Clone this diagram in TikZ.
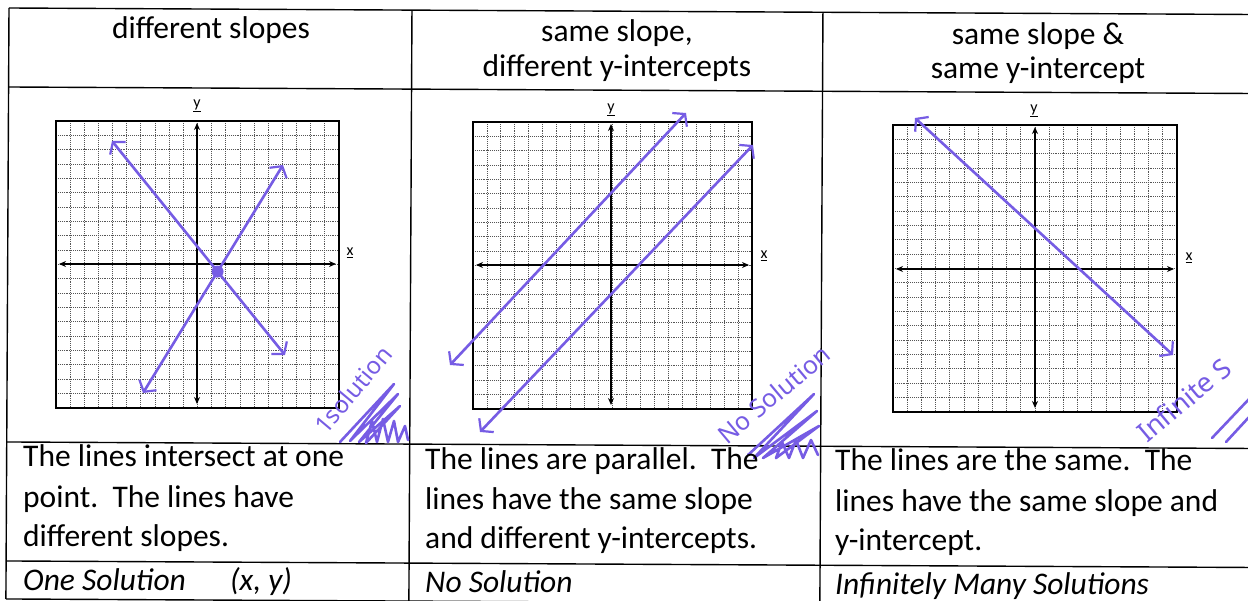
\documentclass[tikz,border=0pt]{standalone}
\usepackage{fontspec}
\setmainfont{Carlito}
\newfontfamily\handfont{Noto Sans}
\usetikzlibrary{arrows.meta}
\definecolor{pen}{RGB}{118,92,228}
\definecolor{gridc}{RGB}{85,85,85}
\tikzset{
  frame/.style={line width=1.4pt, black},
  headtxt/.style={font=\fontsize{31.5}{34}\selectfont, anchor=base, inner sep=0pt},
  bodytxt/.style={font=\fontsize{31.5}{39}\selectfont, anchor=base west, inner sep=0pt},
  italtxt/.style={font=\fontsize{31.5}{39}\selectfont\itshape, anchor=base west, inner sep=0pt},
  gbox/.style={line width=1.5pt, black},
  gridl/.style={gridc, densely dotted, line width=0.9pt},
  axisline/.style={line width=1.7pt, black, {Stealth[length=7pt,width=6pt]}-{Stealth[length=7pt,width=6pt]}},
  axlab/.style={font=\fontsize{16}{16}\selectfont, inner sep=0pt},
  penline/.style={pen, line width=2.6pt, line cap=round,
    {Straight Barb[length=8pt,width=20pt,line width=2.2pt]}-{Straight Barb[length=8pt,width=20pt,line width=2.2pt]}},
  hatch/.style={pen, line width=2.6pt, line cap=round, line join=round},
  handtxt/.style={pen, inner sep=0pt, anchor=base west},
}
% graph paper: #1 x0, #2 y0, #3 x1, #4 y1
\newcommand\gpaper[4]{%
  \foreach \i in {1,...,19} {
    \draw[gridl] ({#1+\i*(#3-#1)/20},#2) -- ({#1+\i*(#3-#1)/20},#4);
    \draw[gridl] (#1,{#2+\i*(#4-#2)/20}) -- (#3,{#2+\i*(#4-#2)/20});
  }
  \draw[gbox] (#1,#2) rectangle (#3,#4);
}
\begin{document}
\begin{tikzpicture}[x=1pt,y=-1pt]
\useasboundingbox (0,0) rectangle (1248,601);
\clip (0,0) rectangle (1248,601);
\fill[white] (0,0) rectangle (1248,601);

% ---------- table frame (slightly skewed like the scan) ----------
\begin{scope}[rotate around={-0.3:(9,8)}]
  \draw[frame] (9,8) -- (1252,8);
  \draw[frame] (9,87) -- (1252,87);
  \draw[frame] (9,442) -- (1252,442);
  \draw[frame] (9,561) -- (1252,561);
  \draw[frame] (9,599) -- (1252,599);
  \draw[frame] (9,8) -- (9,599);
  \draw[frame] (412,8) -- (412,599);
  \draw[frame] (823,8) -- (823,599);
  \draw[frame] (1252,8) -- (1252,599);
\end{scope}

% ---------- headers ----------
\node[headtxt] (h1) at (211,39) {different slopes};
\node[headtxt] (h2a) at (617,42) {same slope,};
\node[headtxt] (h2b) at (617,77) {different y-intercepts};
\node[headtxt] (h3a) at (1038,45) {same slope \&};
\node[headtxt] (h3b) at (1038,79) {same y-intercept};

% ---------- graph 1 ----------
\gpaper{56}{121}{339}{408}
\coordinate (g1l) at (59,264);  \coordinate (g1r) at (336,264);
\coordinate (g1t) at (197,123); \coordinate (g1b) at (197,404);
\draw[axisline] (g1l) -- (g1r);
\draw[axisline] (g1b) -- (g1t);
\node[axlab] (g1y) at (197,106) {\underline{y}};
\node[axlab] (g1x) at (350,253) {\underline{x}};
\coordinate (a1) at (112,141); \coordinate (a2) at (285,355);
\coordinate (b1) at (143,393); \coordinate (b2) at (283,165);
\draw[penline] (a1) -- (a2);
\draw[penline] (b1) -- (b2);
\coordinate (p1) at (intersection of a1--a2 and b1--b2);
\fill[pen] (p1) circle (6);

% ---------- graph 2 ----------
\gpaper{473}{122}{752}{409}
\coordinate (g2l) at (476,265);  \coordinate (g2r) at (749,265);
\coordinate (g2t) at (611,124); \coordinate (g2b) at (611,405);
\draw[axisline] (g2l) -- (g2r);
\draw[axisline] (g2b) -- (g2t);
\node[axlab] (g2y) at (611,110) {\underline{y}};
\node[axlab] (g2x) at (764,256) {\underline{x}};
\coordinate (c1) at (450,365); \coordinate (c2) at (686,113);
\coordinate (d1) at (480,432); \coordinate (d2) at (753,145);
\draw[penline] (c1) -- (c2);
\draw[penline] (d1) -- (d2);

% ---------- graph 3 ----------
\gpaper{893}{125}{1177}{412}
\coordinate (g3l) at (896,269);  \coordinate (g3r) at (1174,269);
\coordinate (g3t) at (1035,127); \coordinate (g3b) at (1035,408);
\draw[axisline] (g3l) -- (g3r);
\draw[axisline] (g3b) -- (g3t);
\node[axlab] (g3y) at (1034,111) {\underline{y}};
\node[axlab] (g3x) at (1189,258) {\underline{x}};
\coordinate (e1) at (915,118); \coordinate (e2) at (1173,355);
\draw[penline] (e1) -- (e2);

% ---------- handwritten notes ----------
\node[handtxt, font=\handfont\fontsize{24}{24}\selectfont, rotate=50] (n1) at (326,436) {1solution};
\draw[hatch] (340,442) -- (394,384) -- (350,441) -- (398,394) -- (359,442) -- (400,406)
  -- (366,443) -- (372,421) -- (377,442) -- (383,419) -- (388,442) -- (394,421)
  -- (398,442) -- (405,426) -- (408,440);
\node[handtxt, font=\handfont\fontsize{25}{25}\selectfont, rotate=40] (n2) at (727,446) {No Solution};
\draw[hatch] (748,455) -- (814,394) -- (754,458) -- (817,411) -- (763,458) -- (819,426)
  -- (776,458) -- (782,442) -- (789,458) -- (796,440) -- (803,458) -- (811,440) -- (818,455);
\node[handtxt, font=\handfont\fontsize{27}{27}\selectfont, rotate=40] (n3) at (1147,444) {Infinite S};
\draw[hatch] (1212,438) -- (1250,398);
\draw[hatch] (1226,442) -- (1250,416);

% ---------- description rows ----------
\node[bodytxt] (t1a) at (23,467) {The lines intersect at one};
\node[bodytxt] (t1b) at (23,507) {point.\ \ The lines have};
\node[bodytxt] (t1c) at (23,546) {different slopes.};
\node[bodytxt] (t2a) at (425,469) {The lines are parallel.\ \ The};
\node[bodytxt] (t2b) at (425,509) {lines have the same slope};
\node[bodytxt] (t2c) at (425,548) {and different y-intercepts.};
\node[bodytxt] (t3a) at (835,471) {The lines are the same.\ \ The};
\node[bodytxt] (t3b) at (835,511) {lines have the same slope and};
\node[bodytxt] (t3c) at (835,550) {y-intercept.};

% ---------- solution row ----------
\node[italtxt] (s1) at (23,590) {One Solution};
\node[italtxt] (s1b) at (230,590) {(x, y)};
\node[italtxt] (s2) at (425,592) {No Solution};
\node[italtxt] (s3) at (835,594) {Infinitely Many Solutions};
\end{tikzpicture}
\end{document}
